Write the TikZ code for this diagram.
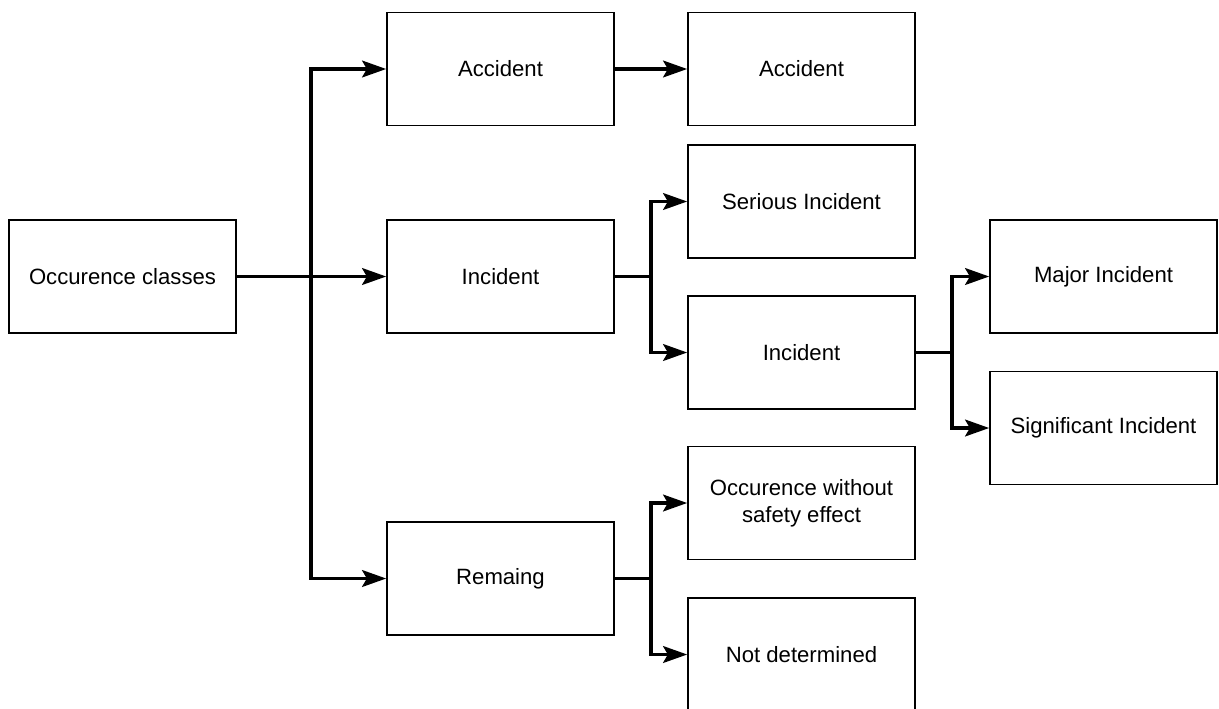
\documentclass[tikz,border=0pt]{standalone}
\usepackage{fontspec}
\setmainfont{Liberation Sans}
\usetikzlibrary{arrows.meta}
\begin{document}
\begin{tikzpicture}[x=0.75pt,y=-0.75pt,
  box/.style={draw, line width=1.2pt, minimum width=170.25pt, minimum height=84.75pt,
    inner sep=0pt, align=center, font=\fontsize{16.6pt}{20pt}\selectfont},
  link/.style={line width=2.8pt, line join=miter},
  arrowlink/.style={link, -{Stealth[length=18pt, width=12.5pt, inset=3.5pt]}}]
\useasboundingbox (0,0) rectangle (1219,708);
% class boxes, one column per level
\node[box] (occ)  at (122.5,276.5) {Occurence classes};
\node[box] (acc)  at (500.5,69)    {Accident};
\node[box] (inc)  at (500.5,276.5) {Incident};
\node[box] (rem)  at (500.5,578.5) {Remaing};
\node[box] (acc2) at (801.5,69)    {Accident};
\node[box] (ser)  at (801.5,201.5) {Serious Incident};
\node[box] (inc2) at (801.5,352.5) {Incident};
\node[box] (occw) at (801.5,503)   {Occurence without\\safety effect};
\node[box] (nd)   at (801.5,654.5) {Not determined};
\node[box] (maj)  at (1103.5,276.5){Major Incident};
\node[box] (sig)  at (1103.5,428)  {Significant Incident};
% branching points
\coordinate (j1) at (311,276.5);
\coordinate (j2) at (651,276.5);
\coordinate (j3) at (952,352.5);
\coordinate (j4) at (651,578.5);
% connectors
\draw[link] (occ.east) -- (j1);
\draw[arrowlink] (j1) |- (acc.west);
\draw[arrowlink] (j1) -- (inc.west);
\draw[arrowlink] (j1) |- (rem.west);
\draw[arrowlink] (acc.east) -- (acc2.west);
\draw[link] (inc.east) -- (j2);
\draw[arrowlink] (j2) |- (ser.west);
\draw[arrowlink] (j2) |- (inc2.west);
\draw[link] (inc2.east) -- (j3);
\draw[arrowlink] (j3) |- (maj.west);
\draw[arrowlink] (j3) |- (sig.west);
\draw[link] (rem.east) -- (j4);
\draw[arrowlink] (j4) |- (occw.west);
\draw[arrowlink] (j4) |- (nd.west);
\end{tikzpicture}
\end{document}
